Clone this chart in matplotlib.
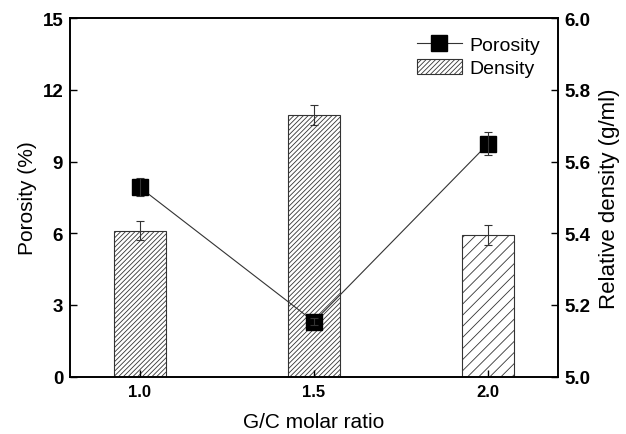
import numpy as np
import matplotlib
matplotlib.use('Agg')
import matplotlib.pyplot as plt

plt.rcParams['font.family'] = ['Liberation Sans', 'DejaVu Sans']
plt.rcParams['hatch.linewidth'] = 0.6
plt.rcParams['hatch.color'] = '#444444'

ratio = [1.0, 1.5, 2.0]
porosity = [7.92, 2.30, 9.74]
porosity_err = [0.38, 0.15, 0.48]
density = [5.407, 5.730, 5.395]
density_err = [0.027, 0.028, 0.028]
hatches = ['///////', '///////', '///']

fig = plt.figure(figsize=(6.26, 4.35), dpi=100)
ax = fig.add_axes([0.112, 0.132, 0.779, 0.824])
ax2 = ax.twinx()

bars = ax2.bar(ratio, np.array(density) - 5.0, bottom=5.0, width=0.15,
               color='white', edgecolor='#333333', linewidth=0.8)
for b, h in zip(bars, hatches):
    b.set_hatch(h)
ax2.errorbar(ratio, density, yerr=density_err, fmt='none', ecolor='#333333',
             elinewidth=0.8, capsize=3, capthick=0.8)

ax.set_zorder(ax2.get_zorder() + 1)
ax.patch.set_visible(False)
line, = ax.plot(ratio, porosity, '-', color='#333333', lw=0.8,
                marker='s', markersize=12, mfc='black', mec='black')
ax.errorbar(ratio, porosity, yerr=porosity_err, fmt='none', ecolor='#333333',
            elinewidth=0.8, capsize=3, capthick=0.8)

ax.set_xlim(0.8, 2.2)
ax.set_ylim(0, 15)
ax2.set_ylim(5.0, 6.0)
ax.set_xticks(ratio)
ax.set_xticklabels(['1.0', '1.5', '2.0'], fontsize=12, fontweight='bold')
ax.set_yticks([0, 3, 6, 9, 12, 15])
ax.set_yticklabels(['0', '3', '6', '9', '12', '15'], fontsize=13.5, fontweight='bold')
ax2.set_yticks([5.0, 5.2, 5.4, 5.6, 5.8, 6.0])
ax2.set_yticklabels(['5.0', '5.2', '5.4', '5.6', '5.8', '6.0'], fontsize=13.5, fontweight='bold')
ax.tick_params(direction='in', length=5, width=1, top=False, pad=5)
ax2.tick_params(direction='in', length=5, width=1, pad=5)
for a in (ax, ax2):
    for s in a.spines.values():
        s.set_linewidth(1.2)

ax.set_xlabel('G/C molar ratio', fontsize=15, labelpad=10)
ax.set_ylabel('Porosity (%)', fontsize=15, labelpad=4)
ax2.set_ylabel('Relative density (g/ml)', fontsize=16, labelpad=6)

ax.legend([line, bars[0]], ['Porosity', 'Density'], loc='upper right',
          frameon=False, fontsize=14, handlelength=2.3, handleheight=0.8,
          handletextpad=0.4, labelspacing=0.25, borderaxespad=0.5)

fig.savefig('out.png', dpi=100)
